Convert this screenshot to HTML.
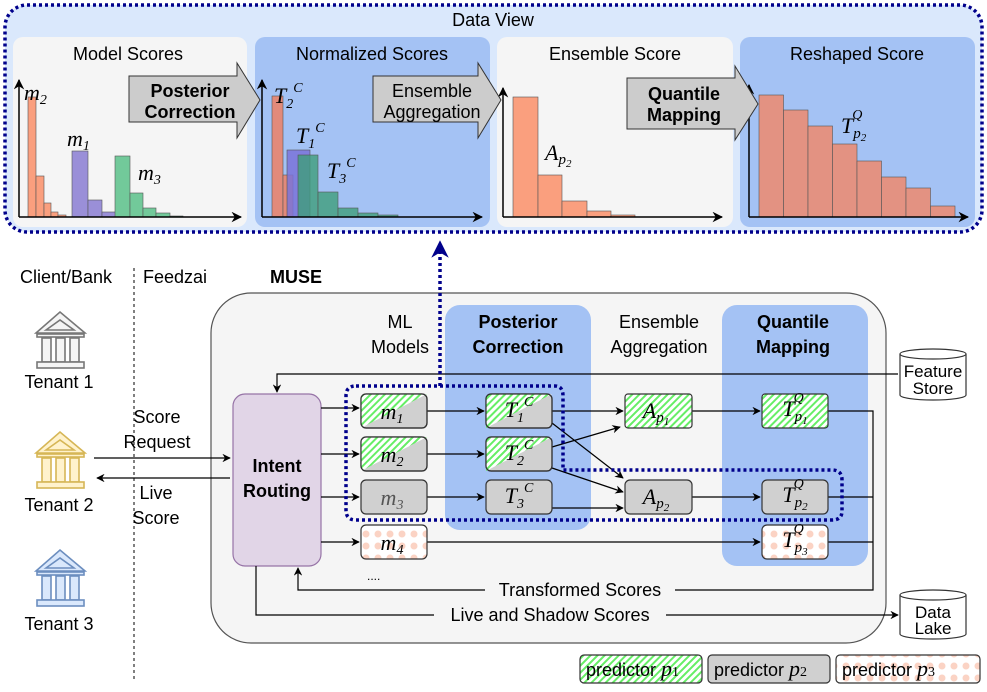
<!DOCTYPE html>
<html><head><meta charset="utf-8"><style>
html,body{margin:0;padding:0;background:#fff;}
svg text{font-family:"Liberation Sans",sans-serif;}
svg .m, svg .m text, svg .m tspan, svg tspan.m{font-family:"Liberation Serif",serif;font-style:italic;}
</style></head><body>
<svg width="987" height="687" viewBox="0 0 987 687" xmlns="http://www.w3.org/2000/svg">
<defs>
<pattern id="hatch" width="5" height="5" patternUnits="userSpaceOnUse" patternTransform="rotate(45)">
<rect width="5" height="5" fill="#fff"/><rect width="2" height="5" fill="#66ee66"/></pattern>
<pattern id="dots" width="12" height="12" patternUnits="userSpaceOnUse">
<rect width="12" height="12" fill="#fff"/><circle cx="6" cy="6" r="3.5" fill="#fbd3c4"/></pattern>
<marker id="ar" viewBox="0 0 10 10" refX="9" refY="5" markerWidth="7" markerHeight="7" orient="auto"><path d="M0,0 L10,5 L0,10 L3,5 z" fill="#000"/></marker>
<marker id="arb" viewBox="0 0 10 10" refX="9" refY="5" markerWidth="5" markerHeight="5" orient="auto"><path d="M0,0 L10,5 L0,10 L3,5 z" fill="#00008b"/></marker>
</defs>

<rect x="5" y="5" width="977" height="227" rx="22" fill="#dae8fc" stroke="#00008b" stroke-width="3.5" stroke-dasharray="3,3"/>
<text x="493" y="26" font-size="18" text-anchor="middle">Data View</text>
<rect x="13" y="37" width="234" height="190" rx="10" fill="#f5f5f5"/>
<rect x="255" y="37" width="235" height="190" rx="10" fill="#a4c2f4"/>
<rect x="497" y="37" width="236" height="190" rx="10" fill="#f5f5f5"/>
<rect x="740" y="37" width="235" height="190" rx="10" fill="#a4c2f4"/>
<g font-size="18" text-anchor="middle">
<text x="128" y="60">Model Scores</text><text x="372" y="60">Normalized Scores</text>
<text x="615" y="60">Ensemble Score</text><text x="857" y="60">Reshaped Score</text></g>

<g stroke="#555" stroke-width="0.6">
<g fill="#fa9f7e"><rect x="28" y="97" width="8" height="120"/><rect x="36" y="176" width="8" height="41"/><rect x="44" y="203" width="7" height="14"/><rect x="51" y="212" width="7" height="5"/><rect x="58" y="215" width="8" height="2"/></g>
<g fill="#9a8fd8"><rect x="72" y="151" width="16" height="66"/><rect x="88" y="200" width="14" height="17"/><rect x="102" y="212" width="14" height="5"/></g>
<g fill="#72c99a"><rect x="115" y="156" width="15" height="61"/><rect x="130" y="193" width="13" height="24"/><rect x="143" y="208" width="13" height="9"/><rect x="156" y="213" width="14" height="4"/><rect x="170" y="216" width="13" height="1"/></g>
<rect x="272" y="96" width="11" height="121" fill="#e28a7a"/><rect x="283" y="175" width="10" height="42" fill="#e28a7a"/>
<rect x="287" y="150" width="23" height="67" fill="#7a73d8" fill-opacity="0.85"/>
<g fill="#3f9e7a" fill-opacity="0.8"><rect x="298" y="155" width="20" height="62"/><rect x="318" y="192" width="20" height="25"/><rect x="338" y="208" width="20" height="9"/><rect x="358" y="213" width="20" height="4"/><rect x="378" y="215" width="20" height="2"/></g>
<g fill="#fa9f7e"><rect x="513" y="97" width="25" height="120"/><rect x="538" y="175" width="24" height="42"/><rect x="562" y="201" width="25" height="16"/><rect x="587" y="211" width="24" height="6"/><rect x="611" y="215" width="24" height="2"/></g>
<g fill="#e39282"><rect x="759" y="95" width="24.5" height="122"/><rect x="783.5" y="110" width="24.5" height="107"/><rect x="808" y="126" width="24.5" height="91"/><rect x="832.5" y="144" width="24.5" height="73"/><rect x="857" y="161" width="24.5" height="56"/><rect x="881.5" y="177" width="24.5" height="40"/><rect x="906" y="188" width="24.5" height="29"/><rect x="930.5" y="206" width="24.5" height="11"/></g>
</g>
<g stroke="#000" stroke-width="1.5" fill="none" marker-end="url(#ar)">
<path d="M19,217 V80"/><path d="M19,217 H241"/>
<path d="M262,217 V80"/><path d="M262,217 H482"/>
<path d="M503,217 V88"/><path d="M503,217 H722"/>
<path d="M749,217 V85"/><path d="M749,217 H968"/>
</g>
<g font-size="22" class="m">
<text x="24" y="100">m<tspan font-size="14" dy="4">2</tspan></text>
<text x="67" y="146">m<tspan font-size="14" dy="4">1</tspan></text>
<text x="138" y="180">m<tspan font-size="14" dy="4">3</tspan></text>
<text x="274" y="103">T<tspan font-size="14" dy="5">2</tspan><tspan font-size="14" dy="-16">C</tspan></text>
<text x="296" y="143">T<tspan font-size="14" dy="5">1</tspan><tspan font-size="14" dy="-16">C</tspan></text>
<text x="327" y="178">T<tspan font-size="14" dy="5">3</tspan><tspan font-size="14" dy="-16">C</tspan></text>
<text x="545" y="160">A<tspan font-size="15" dy="4">p</tspan><tspan font-size="11" dy="3">2</tspan></text>
<text x="841" y="133">T<tspan font-size="15" dy="5">p</tspan><tspan font-size="11" dy="3">2</tspan><tspan font-size="14" dx="-14" dy="-22">Q</tspan></text>
</g>
<g fill="#cccccc" stroke="#333" stroke-width="1">
<path d="M129,76 H237 V63 L260,100 L237,138 V122 H129 Z"/>
<path d="M373,76 H478 V63 L501,100 L478,138 V122 H373 Z"/>
<path d="M627,78 H735 V66 L758,104 L735,140 V129 H627 Z"/>
</g>
<g font-size="18" text-anchor="middle">
<text x="190" y="97" font-weight="bold">Posterior</text><text x="190" y="118" font-weight="bold">Correction</text>
<text x="432" y="97">Ensemble</text><text x="432" y="118">Aggregation</text>
<text x="684" y="100" font-weight="bold">Quantile</text><text x="684" y="121" font-weight="bold">Mapping</text>
</g>

<g font-size="18">
<text x="20" y="283">Client/Bank</text><text x="143" y="283">Feedzai</text>
<text x="270" y="283" font-weight="bold">MUSE</text></g>
<line x1="134" y1="268" x2="134" y2="682" stroke="#000" stroke-width="1" stroke-dasharray="3,3"/>

<rect x="211" y="293" width="675" height="350" rx="40" fill="#f5f5f5" stroke="#555" stroke-width="1.2"/>
<rect x="445" y="305" width="146" height="225" rx="15" fill="#a4c2f4"/>
<rect x="722" y="305" width="146" height="261" rx="15" fill="#a4c2f4"/>
<g font-size="18" text-anchor="middle">
<text x="400" y="328">ML</text><text x="400" y="353">Models</text>
<text x="518" y="328" font-weight="bold">Posterior</text><text x="518" y="353" font-weight="bold">Correction</text>
<text x="659" y="328">Ensemble</text><text x="659" y="353">Aggregation</text>
<text x="793" y="328" font-weight="bold">Quantile</text><text x="793" y="353" font-weight="bold">Mapping</text>
</g>

<g stroke-width="1.6">
<g stroke="#777" fill="#f5f5f5">
<path d="M36,333 L60,312 L85,333 Z"/><path d="M46,330 L60,320 L74,330 Z" fill="none"/>
<rect x="37" y="334" width="47" height="3"/>
<rect x="42" y="338" width="9" height="24"/><rect x="56" y="338" width="9" height="24"/><rect x="70" y="338" width="9" height="24"/>
<rect x="37" y="362" width="47" height="6"/></g>
<g stroke="#d6b656" fill="#fff2cc" transform="translate(0,120)">
<path d="M36,333 L60,312 L85,333 Z"/><path d="M46,330 L60,320 L74,330 Z" fill="none"/>
<rect x="37" y="334" width="47" height="3"/>
<rect x="42" y="338" width="9" height="24"/><rect x="56" y="338" width="9" height="24"/><rect x="70" y="338" width="9" height="24"/>
<rect x="37" y="362" width="47" height="6"/></g>
<g stroke="#6c8ebf" fill="#dae8fc" transform="translate(0,238)">
<path d="M36,333 L60,312 L85,333 Z"/><path d="M46,330 L60,320 L74,330 Z" fill="none"/>
<rect x="37" y="334" width="47" height="3"/>
<rect x="42" y="338" width="9" height="24"/><rect x="56" y="338" width="9" height="24"/><rect x="70" y="338" width="9" height="24"/>
<rect x="37" y="362" width="47" height="6"/></g>
</g>
<g font-size="18" text-anchor="middle">
<text x="59" y="388">Tenant 1</text><text x="59" y="511">Tenant 2</text><text x="59" y="630">Tenant 3</text>
<text x="157" y="423">Score</text><text x="157" y="448">Request</text>
<text x="156" y="499">Live</text><text x="156" y="524">Score</text>
</g>

<rect x="233" y="394" width="88" height="172" rx="12" fill="#e1d5e7" stroke="#9673a6" stroke-width="1.2"/>
<text x="277" y="472" font-size="18" font-weight="bold" text-anchor="middle">Intent</text>
<text x="277" y="497" font-size="18" font-weight="bold" text-anchor="middle">Routing</text>

<g stroke="#000" stroke-width="1.2" fill="none">
<path d="M94,458 H230" marker-end="url(#ar)"/>
<path d="M230,478 H97" marker-end="url(#ar)"/>
<path d="M898,374 H277 V392" marker-end="url(#ar)"/>
<path d="M321,408 H359" marker-end="url(#ar)"/>
<path d="M321,454 H359" marker-end="url(#ar)"/>
<path d="M321,497 H359" marker-end="url(#ar)"/>
<path d="M321,542 H359" marker-end="url(#ar)"/>
<path d="M427,411 H484" marker-end="url(#ar)"/>
<path d="M427,454 H484" marker-end="url(#ar)"/>
<path d="M427,497 H484" marker-end="url(#ar)"/>
<path d="M552,411 H623" marker-end="url(#ar)"/>
<path d="M552,423 L623,478" marker-end="url(#ar)"/>
<path d="M552,447 L620,427" marker-end="url(#ar)"/>
<path d="M552,468 L623,492" marker-end="url(#ar)"/>
<path d="M552,508 H623" marker-end="url(#ar)"/>
<path d="M692,411 H760" marker-end="url(#ar)"/>
<path d="M692,497 H760" marker-end="url(#ar)"/>
<path d="M427,542 H760" marker-end="url(#ar)"/>
<path d="M828,411 H873 V590 H298 V568" marker-end="url(#ar)"/>
<path d="M828,497 H873"/><path d="M828,542 H873"/>
<path d="M256,566 V615 H898" marker-end="url(#ar)"/>
</g>
<rect x="485" y="580" width="190" height="20" fill="#f5f5f5"/>
<text x="580" y="596" font-size="18" text-anchor="middle">Transformed Scores</text>
<rect x="434" y="605" width="232" height="20" fill="#f5f5f5"/>
<text x="550" y="621" font-size="18" text-anchor="middle">Live and Shadow Scores</text>
<text x="367" y="580" font-size="12">....</text>

<g stroke="#333" stroke-width="1.2">
<rect x="361" y="394" width="66" height="34" rx="5" fill="#d0d0d0"/><path d="M361,428 V399 Q361,394 366,394 H427 Z" fill="url(#hatch)" stroke="none"/><rect x="361" y="394" width="66" height="34" rx="5" fill="none"/>
<rect x="361" y="437" width="66" height="34" rx="5" fill="#d0d0d0"/><path d="M361,471 V442 Q361,437 366,437 H427 Z" fill="url(#hatch)" stroke="none"/><rect x="361" y="437" width="66" height="34" rx="5" fill="none"/>
<rect x="361" y="480" width="66" height="34" rx="5" fill="#d0d0d0"/>
<rect x="361" y="525" width="66" height="34" rx="5" fill="url(#dots)"/>
<rect x="486" y="394" width="66" height="34" rx="5" fill="#d0d0d0"/><path d="M486,428 V399 Q486,394 491,394 H552 Z" fill="url(#hatch)" stroke="none"/><rect x="486" y="394" width="66" height="34" rx="5" fill="none"/>
<rect x="486" y="437" width="66" height="34" rx="5" fill="#d0d0d0"/><path d="M486,471 V442 Q486,437 491,437 H552 Z" fill="url(#hatch)" stroke="none"/><rect x="486" y="437" width="66" height="34" rx="5" fill="none"/>
<rect x="486" y="480" width="66" height="34" rx="5" fill="#d0d0d0"/>
<rect x="625" y="394" width="67" height="34" rx="3" fill="url(#hatch)"/>
<rect x="625" y="480" width="67" height="34" rx="5" fill="#d0d0d0"/>
<rect x="762" y="394" width="66" height="34" rx="3" fill="url(#hatch)"/>
<rect x="762" y="480" width="66" height="34" rx="5" fill="#d0d0d0"/>
<rect x="762" y="525" width="66" height="34" rx="5" fill="url(#dots)"/>
</g>
<g font-size="22" class="m" text-anchor="middle">
<text x="392" y="419">m<tspan font-size="14" dy="4">1</tspan></text>
<text x="392" y="462">m<tspan font-size="14" dy="4">2</tspan></text>
<text x="392" y="505" fill="#555">m<tspan font-size="14" dy="4">3</tspan></text>
<text x="392" y="550">m<tspan font-size="14" dy="4">4</tspan></text>
<text x="519" y="417">T<tspan font-size="14" dy="5">1</tspan><tspan font-size="14" dy="-16">C</tspan></text>
<text x="519" y="460">T<tspan font-size="14" dy="5">2</tspan><tspan font-size="14" dy="-16">C</tspan></text>
<text x="519" y="503">T<tspan font-size="14" dy="5">3</tspan><tspan font-size="14" dy="-16">C</tspan></text>
<text x="656" y="418">A<tspan font-size="15" dy="4">p</tspan><tspan font-size="11" dy="3">1</tspan></text>
<text x="656" y="504">A<tspan font-size="15" dy="4">p</tspan><tspan font-size="11" dy="3">2</tspan></text>
<text x="795" y="416">T<tspan font-size="15" dy="5">p</tspan><tspan font-size="11" dy="3">1</tspan><tspan font-size="14" dx="-14" dy="-22">Q</tspan></text>
<text x="795" y="502">T<tspan font-size="15" dy="5">p</tspan><tspan font-size="11" dy="3">2</tspan><tspan font-size="14" dx="-14" dy="-22">Q</tspan></text>
<text x="795" y="547">T<tspan font-size="15" dy="5">p</tspan><tspan font-size="11" dy="3">3</tspan><tspan font-size="14" dx="-14" dy="-22">Q</tspan></text>
</g>

<path d="M356,386 H555 Q563,386 563,396 V470 H832 Q842,470 842,480 V511 Q842,520 832,520 H356 Q346,520 346,510 V396 Q346,386 356,386 Z" fill="none" stroke="#00008b" stroke-width="3.5" stroke-dasharray="3,3"/>
<path d="M440,386 V242" fill="none" stroke="#00008b" stroke-width="3.5" stroke-dasharray="3,3" marker-end="url(#arb)"/>

<g stroke="#333" stroke-width="1.2" fill="#fff">
<path d="M900,354 V395 A33,5 0 0 0 966,395 V354"/><ellipse cx="933" cy="354" rx="33" ry="5"/>
<path d="M900,595 V634 A33,5 0 0 0 966,634 V595"/><ellipse cx="933" cy="595" rx="33" ry="5"/>
</g>
<g font-size="17" text-anchor="middle">
<text x="933" y="377">Feature</text><text x="933" y="394">Store</text>
<text x="933" y="618">Data</text><text x="933" y="634">Lake</text></g>

<g stroke="#333" stroke-width="1.2">
<rect x="580" y="655" width="122" height="28" rx="4" fill="url(#hatch)"/>
<rect x="708" y="655" width="122" height="28" rx="4" fill="#d0d0d0"/>
<rect x="836" y="655" width="144" height="28" rx="4" fill="url(#dots)"/>
</g>
<g font-size="18">
<text x="586" y="676">predictor <tspan class="m" font-size="22">p</tspan><tspan font-size="14" font-family="Liberation Serif">1</tspan></text>
<text x="714" y="676">predictor <tspan class="m" font-size="22">p</tspan><tspan font-size="14" font-family="Liberation Serif">2</tspan></text>
<text x="842" y="676">predictor <tspan class="m" font-size="22">p</tspan><tspan font-size="14" font-family="Liberation Serif">3</tspan></text>
</g>
</svg>
</body></html>
